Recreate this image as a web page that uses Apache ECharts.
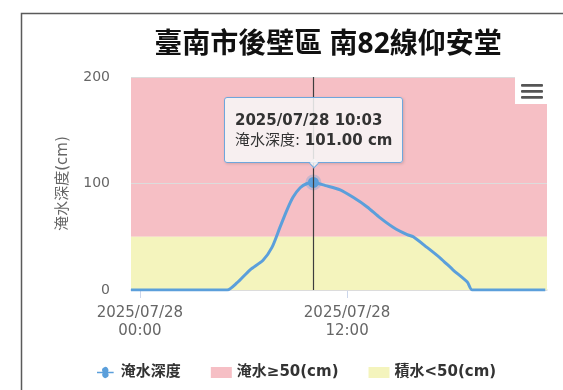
<!DOCTYPE html>
<html>
<head>
<meta charset="utf-8">
<style>
  html, body { margin: 0; padding: 0; background: #fff; }
  #chart { width: 563px; height: 390px; }
</style>
<script src="https://cdn.jsdelivr.net/npm/echarts@6/dist/echarts.min.js"></script>
</head>
<body>
<div id="chart"></div>
<script>
// Water depth readings (time, cm) at the 南82線仰安堂 sensor
const times = [
  '2025-07-27 23:29', '2025-07-28 01:00', '2025-07-28 03:00', '2025-07-28 05:03',
  '2025-07-28 05:37', '2025-07-28 06:23', '2025-07-28 07:08', '2025-07-28 07:39',
  '2025-07-28 08:07', '2025-07-28 08:31', '2025-07-28 08:52', '2025-07-28 09:17',
  '2025-07-28 09:41', '2025-07-28 10:03', '2025-07-28 10:45', '2025-07-28 11:36',
  '2025-07-28 12:21', '2025-07-28 13:10', '2025-07-28 13:54', '2025-07-28 14:40',
  '2025-07-28 15:29', '2025-07-28 15:50', '2025-07-28 16:38', '2025-07-28 17:24',
  '2025-07-28 18:08', '2025-07-28 18:58', '2025-07-28 19:15', '2025-07-28 21:00',
  '2025-07-28 23:29'
];
const depths = [
  0, 0, 0, 0,
  6.6, 19, 28, 40,
  59, 75, 87, 96,
  100, 101, 98, 94,
  87, 78, 68, 59,
  52, 50, 40, 30,
  19, 7.5, 0, 0,
  0
];
const xRange = ['2025-07-27 23:29', '2025-07-28 23:35'];
const xTickTimes = ['2025-07-28 00:00', '2025-07-28 12:00'];
const yTicks = [0, 100, 200];
const floodBand = [50, 200];
const pondBand = [0, 50];
const markedIndex = 13;

const seriesNames = ['淹水深度', '淹水≥50(cm)', '積水<50(cm)'];
const titleText = '臺南市後壁區 南82線仰安堂';
const yName = '淹水深度(cm)';

const FONT = "'DejaVu Sans', 'Noto Sans CJK TC', sans-serif";
const TITLE_FONT = "'Noto Sans', 'Noto Sans CJK TC', sans-serif";
const LINE = '#5b9fdb';
const PINK = '#f6bfc5';
const YELLOW = '#f4f4bd';

const parse = s => echarts.number.parseDate(s).getTime();
const fmt = (ts, pattern) => echarts.time.format(ts, pattern, false);

// Only the highlighted reading gets a visible marker
const seriesData = times.map((t, i) => {
  const item = { value: [parse(t), depths[i]] };
  if (i === markedIndex) {
    item.symbolSize = 11;
    item.itemStyle = { color: LINE, borderColor: 'rgba(91,159,219,0.3)', borderWidth: 5 };
  }
  return item;
});

const chart = echarts.init(document.getElementById('chart'));
chart.setOption({
  animation: false,
  textStyle: { fontFamily: FONT },
  title: {
    text: titleText,
    left: 323, top: 26, textAlign: 'center',
    textStyle: { fontSize: 28, fontWeight: 'bold', color: '#111', fontFamily: TITLE_FONT }
  },
  graphic: [
    { type: 'rect', z: 100, shape: { x: 21.5, y: 13.5, width: 700, height: 500 },
      style: { fill: 'none', stroke: '#5a5a5a', lineWidth: 1.5 }, silent: true },
    { type: 'rect', z: 100, shape: { x: 515, y: 77, width: 34, height: 27 }, style: { fill: '#fff' } },
    { type: 'rect', z: 101, shape: { x: 521, y: 84, width: 22, height: 2.8, r: 1 }, style: { fill: '#555' } },
    { type: 'rect', z: 101, shape: { x: 521, y: 90, width: 22, height: 2.8, r: 1 }, style: { fill: '#555' } },
    { type: 'rect', z: 101, shape: { x: 521, y: 96, width: 22, height: 2.8, r: 1 }, style: { fill: '#555' } }
  ],
  legend: {
    left: 92, top: 360,
    itemGap: 30, itemWidth: 21, itemHeight: 11,
    textStyle: { fontSize: 15, fontWeight: 'bold', color: '#333', fontFamily: FONT },
    data: [
      { name: seriesNames[0], icon: 'path://M0,4.5 L7,4.5 A4,4 0 1 1 14,4.5 L21,4.5 L21,6.5 L14,6.5 A4,4 0 1 1 7,6.5 L0,6.5 Z' },
      { name: seriesNames[1], icon: 'rect', itemStyle: { color: PINK } },
      { name: seriesNames[2], icon: 'rect', itemStyle: { color: YELLOW } }
    ]
  },
  tooltip: {
    trigger: 'item',
    triggerOn: 'none',
    alwaysShowContent: true,
    position: 'top',
    backgroundColor: 'rgba(247,247,247,0.86)',
    borderColor: '#6ea6dc',
    borderWidth: 1.5,
    padding: [12, 10],
    extraCssText: 'border-radius:3px;box-shadow:1px 1px 3px rgba(0,0,0,0.15);',
    textStyle: { fontFamily: FONT, color: '#333', fontSize: 15 },
    formatter: p => '<div style="line-height:20px;font-size:15px;color:#333;font-family:' + FONT.replace(/'/g, '') + '">' +
      '<b>' + fmt(p.value[0], '{yyyy}/{MM}/{dd} {HH}:{mm}') + '</b><br/>' +
      p.seriesName + ': <b>' + p.value[1].toFixed(2) + ' cm</b></div>'
  },
  grid: { left: 131, right: 16, top: 77, bottom: 100 },
  xAxis: {
    type: 'value',
    min: parse(xRange[0]),
    max: parse(xRange[1]),
    axisLine: { lineStyle: { color: '#ccd6eb', width: 1.5 } },
    axisTick: { show: true, length: 8, lineStyle: { color: '#ccd6eb' },
      customValues: xTickTimes.map(parse) },
    splitLine: { show: false },
    axisLabel: {
      customValues: xTickTimes.map(parse),
      color: '#666', fontSize: 15, lineHeight: 18, margin: 14,
      formatter: v => fmt(v, '{yyyy}/{MM}/{dd}\n{HH}:{mm}')
    }
  },
  yAxis: {
    type: 'value',
    min: yTicks[0], max: yTicks[yTicks.length - 1], interval: 100,
    z: 2,
    name: yName,
    nameLocation: 'middle',
    nameRotate: 90,
    nameGap: 60,
    nameTextStyle: { color: '#666', fontSize: 15, fontFamily: FONT },
    axisLine: { show: false },
    axisTick: { show: false },
    splitLine: { lineStyle: { color: '#dcdcdc', width: 1 } },
    axisLabel: { color: '#666', fontSize: 14, margin: 21 }
  },
  series: [
    {
      name: seriesNames[0],
      type: 'line',
      z: 4,
      data: seriesData,
      smooth: 0.25,
      showSymbol: true,
      showAllSymbol: true,
      symbol: 'circle',
      symbolSize: 0,
      color: LINE,
      lineStyle: { width: 3, color: LINE },
      itemStyle: { color: LINE },
      emphasis: { scale: 1, lineStyle: { width: 3 } },
      markLine: {
        silent: true,
        symbol: 'none',
        label: { show: false },
        lineStyle: { color: '#3d3d3d', width: 1.2, type: 'solid' },
        data: [{ xAxis: parse(times[markedIndex]) }]
      }
    },
    {
      name: seriesNames[1],
      type: 'line',
      z: 1,
      data: [],
      color: PINK,
      markArea: {
        silent: true,
        itemStyle: { color: PINK },
        data: [[{ yAxis: floodBand[0] }, { yAxis: floodBand[1] }]]
      }
    },
    {
      name: seriesNames[2],
      type: 'line',
      z: 1,
      data: [],
      color: YELLOW,
      markArea: {
        silent: true,
        itemStyle: { color: YELLOW },
        data: [[{ yAxis: pondBand[0] }, { yAxis: pondBand[1] }]]
      }
    }
  ]
});

chart.dispatchAction({ type: 'showTip', seriesIndex: 0, dataIndex: markedIndex });
</script>
</body>
</html>
